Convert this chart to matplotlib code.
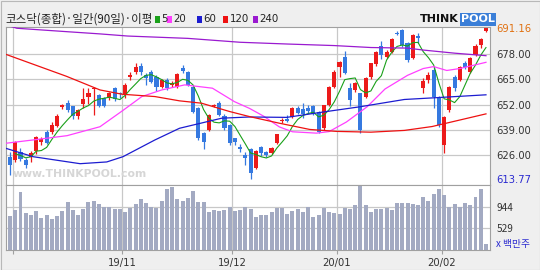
import numpy as np
import pandas as pd
import matplotlib
matplotlib.use('Agg')
import matplotlib.pyplot as plt
from matplotlib.patches import Rectangle

# 코스닥 일봉 (봉 번호 0 = 2019/09/30), 그림에서 읽은 값
opens = [625.2, 623.6, 627.4, 623.5, 624.9, 628.1, 632.7, 638.1, 638.1, 641.2,
         650.6, 653.0, 651.0, 646.3, 652.2, 656.1, 660.0, 656.9, 655.2, 655.2,
         660.4, 657.8, 656.9, 666.0, 668.9, 672.0, 667.0, 668.9, 666.3, 661.2,
         664.6, 662.0, 661.2, 671.0, 668.9, 661.2, 650.1, 637.3, 639.0, 651.0,
         652.7, 646.3, 641.5, 634.6, 630.4, 626.1, 629.0, 619.3, 630.0, 627.6,
         627.0, 632.1, 643.3, 644.4, 645.8, 650.1, 649.8, 650.3, 651.4, 648.0,
         639.8, 651.8, 661.2, 671.5, 676.6, 660.4, 659.5, 657.8, 656.1, 666.3,
         672.7, 682.3, 676.6, 679.2, 688.8, 690.3, 683.5, 676.1, 687.2, 660.4,
         664.6, 669.8, 656.1, 631.2, 649.2, 666.3, 664.6, 673.2, 668.9, 677.5,
         682.6, 689.8]
closes = [620.9, 632.6, 624.0, 621.0, 627.3, 635.3, 634.2, 632.1, 641.5, 646.3,
          651.8, 649.2, 646.3, 649.1, 654.9, 657.8, 660.6, 651.4, 651.4, 657.8,
          654.9, 657.2, 662.1, 667.0, 671.5, 668.9, 665.5, 663.8, 661.2, 664.6,
          660.4, 663.2, 667.6, 669.0, 662.1, 648.4, 634.7, 633.0, 646.7, 651.8,
          646.7, 639.9, 632.1, 633.0, 629.2, 624.4, 616.7, 628.3, 627.3, 626.0,
          629.6, 636.7, 643.8, 643.5, 650.1, 647.5, 647.0, 648.7, 647.0, 638.1,
          651.8, 661.2, 668.9, 674.0, 668.1, 654.4, 662.9, 639.0, 665.5, 673.2,
          678.9, 677.5, 679.2, 685.7, 688.0, 682.6, 674.9, 687.8, 686.4, 664.1,
          667.2, 656.1, 641.5, 645.8, 661.2, 660.4, 671.5, 671.5, 675.8, 682.3,
          685.7, 691.16]
highs = [627.5, 633.5, 629.5, 624.5, 628.3, 635.8, 635.5, 639.0, 643.0, 647.0,
         652.3, 654.5, 651.5, 649.5, 660.4, 660.5, 661.2, 657.5, 656.0, 658.5,
         661.0, 658.5, 663.0, 668.5, 673.5, 673.5, 668.0, 669.5, 667.0, 665.0,
         665.5, 664.0, 668.0, 672.5, 669.0, 661.5, 650.5, 638.0, 647.0, 652.3,
         654.0, 647.0, 642.0, 635.0, 631.5, 627.5, 629.5, 628.5, 630.5, 628.0,
         630.0, 637.0, 645.0, 646.5, 650.5, 651.5, 653.0, 652.0, 652.0, 648.5,
         652.0, 661.5, 669.5, 674.5, 679.5, 663.0, 663.5, 658.0, 666.0, 673.5,
         679.5, 684.5, 680.0, 686.0, 690.0, 691.0, 684.0, 688.5, 689.0, 665.5,
         668.5, 671.5, 656.5, 646.0, 661.5, 667.0, 672.0, 674.5, 676.5, 683.0,
         686.0, 691.16]
lows = [615.8, 622.5, 622.8, 619.3, 622.6, 626.5, 631.0, 631.5, 637.0, 640.5,
        649.8, 648.0, 644.8, 644.5, 650.0, 652.5, 646.7, 650.5, 650.5, 654.5,
        654.0, 655.5, 655.5, 664.5, 667.5, 667.0, 662.0, 663.0, 659.0, 660.5,
        659.5, 661.0, 660.5, 668.0, 661.5, 647.5, 634.0, 629.2, 638.5, 650.5,
        646.0, 639.0, 631.0, 631.0, 627.5, 621.0, 613.77, 619.0, 625.5, 625.0,
        626.5, 631.5, 642.5, 643.0, 645.0, 647.0, 645.0, 647.5, 646.5, 637.5,
        639.0, 651.0, 660.5, 666.0, 667.5, 651.5, 658.5, 637.3, 655.5, 665.0,
        672.0, 675.5, 676.0, 678.5, 687.5, 681.5, 674.0, 675.5, 683.5, 658.0,
        663.0, 650.0, 640.5, 627.0, 648.0, 659.0, 664.0, 670.5, 668.0, 677.0,
        680.9, 689.5]
# 거래량 (백만주)
volumes = [769, 886, 1231, 821, 788, 866, 736, 788, 716, 769,
           866, 1042, 886, 788, 905, 1042, 1061, 1003, 951, 951,
           905, 905, 841, 919, 997, 1095, 1028, 951, 919, 1067,
           1290, 1329, 1095, 1067, 1126, 1262, 1042, 1042, 841, 886,
           873, 886, 944, 873, 886, 944, 905, 749, 788, 788,
           841, 931, 919, 808, 866, 899, 841, 951, 755, 788,
           919, 841, 821, 808, 919, 905, 977, 1354, 977, 853,
           905, 905, 919, 886, 1016, 1016, 1016, 1003, 977, 1145,
           1061, 1192, 1296, 1178, 951, 997, 951, 1022, 977, 1145,
           1296, 223]

# 이동평균선 (그림에서 읽은 점: 봉 번호, 지수)
ma20_x = [-0.8, 4.4, 10.9, 17.2, 21.6, 25.2, 29.0, 33.4, 38.7, 42.9, 45.8, 48.5,
          51.5, 54.0, 58.6, 61.0, 64.3, 68.3, 71.7, 76.0, 79.0, 81.0, 83.5, 86.0, 91.0]
ma20_y = [632.1, 633.8, 636.0, 640.6, 649.0, 656.1, 659.5, 662.1, 660.4, 653.5, 650.0, 646.0,
          640.5, 638.0, 637.3, 638.1, 643.0, 650.9, 660.0, 667.0, 670.5, 671.5, 669.5, 670.5, 673.7]
ma60_x = [-0.8, 4.4, 13.4, 18.5, 21.6, 27.7, 32.4, 40.5, 45.8, 52.9, 60.5, 66.8, 75.4, 82.0, 91.0]
ma60_y = [629.5, 625.2, 621.6, 622.5, 625.2, 633.8, 639.8, 645.0, 645.6, 645.4, 648.4, 650.8,
          654.6, 655.6, 657.0]
ma120_x = [-0.8, 10.8, 17.2, 21.4, 27.7, 32.4, 36.6, 42.0, 45.8, 51.5, 57.3, 62.4, 69.0,
           75.4, 80.7, 91.0]
ma120_y = [677.8, 666.5, 659.5, 657.3, 656.1, 653.9, 652.7, 648.4, 645.8, 642.4, 639.2, 638.2,
           637.8, 638.7, 640.7, 647.2]
ma240_x = [-0.8, 1.3, 10.0, 17.2, 22.5, 34.0, 44.0, 53.0, 62.0, 69.0, 76.0, 79.0, 85.0, 91.0]
ma240_y = [693.0, 691.2, 689.6, 688.3, 687.2, 686.0, 684.0, 683.1, 682.3, 681.3, 681.0, 680.0,
           678.4, 677.1]

month_first = [1, 22, 43, 63, 83]
month_labels = ['', '19/11', '19/12', '20/01', '20/02']
price_ticks = [626, 639, 652, 665, 678]
vol_ticks = [529, 944]

legend_names = ['5', '20', '60', '120', '240']
legend_colors = ['#1aa01a', '#ff40ff', '#1c1cd0', '#ee1111', '#9a1ad0']

UP = '#ec1a1a'
DOWN = '#3579e0'
GRID = '#c8c8c8'
BG = '#efefef'

plt.rcParams['font.family'] = ['Noto Sans CJK KR', 'DejaVu Sans']

W, H = 540, 270
fig = plt.figure(figsize=(W / 100, H / 100), dpi=100, facecolor=BG)

# 가격 / 거래량 영역
ax = fig.add_axes([6 / W, 1 - 185 / H, 484 / W, 158.3 / H])
axv = fig.add_axes([6 / W, 1 - 250.3 / H, 484 / W, 65.3 / H], sharex=ax)

idx = np.arange(len(closes))
o = np.array(opens)
c = np.array(closes)
up = c >= o
colors = np.where(up, UP, DOWN)
body_lo = np.minimum(o, c)
body_h = np.maximum(np.abs(c - o), 0.5)

ax.vlines(idx, lows, highs, colors=colors, linewidth=0.9, zorder=2)
ax.bar(idx, body_h, bottom=body_lo, width=0.78, color=colors, linewidth=0, zorder=2)

# 이동평균선
ma5 = pd.Series(closes).rolling(5, min_periods=1).mean()
ax.plot(idx[1:], ma5[1:], color=legend_colors[0], lw=0.8, zorder=3)
ax.plot(ma20_x, ma20_y, color=legend_colors[1], lw=0.9, zorder=3)
ax.plot(ma60_x, ma60_y, color=legend_colors[2], lw=0.9, zorder=3)
ax.plot(ma120_x, ma120_y, color=legend_colors[3], lw=0.9, zorder=3)
ax.plot(ma240_x, ma240_y, color=legend_colors[4], lw=0.9, zorder=3)

axv.bar(idx, volumes, width=0.76, color='#a3aac2', linewidth=0, zorder=2)

month_lines = np.array(month_first) - 0.5
for a in (ax, axv):
    a.set_facecolor('white')
    for m in month_lines:
        a.axvline(m, color=GRID, lw=0.9, zorder=0)
    for s in a.spines.values():
        s.set_color('#a0a0a0')
        s.set_linewidth(0.8)
for t in price_ticks:
    ax.axhline(t, color=GRID, lw=0.9, zorder=0)
for t in vol_ticks:
    axv.axhline(t, color=GRID, lw=0.9, zorder=0)

ax.set_xlim(-0.77, len(closes) - 0.23)
ax.set_ylim(610.65, 692.0)
axv.set_ylim(100, 1373)

# 오른쪽 눈금
pmax, pmin = max(highs), min(lows)
ax.yaxis.tick_right()
ax.set_yticks([pmin] + price_ticks + [pmax])
ax.set_yticklabels(['%.2f' % v for v in [pmin] + price_ticks + [pmax]])
ax.tick_params(axis='y', length=0, pad=4.5, labelsize=7.2, labelcolor='#333333')
ylabels = ax.get_yticklabels()
ylabels[0].set_color('#2a2ad0')
ylabels[-1].set_color('#e07010')
for lb in ylabels:
    lb.set_family('DejaVu Sans')

axv.yaxis.tick_right()
axv.set_yticks([236] + vol_ticks)
axv.set_yticklabels(['x 백만주'] + [str(v) for v in vol_ticks])
axv.tick_params(axis='y', length=0, pad=4.5, labelsize=7.2, labelcolor='#333333')
vlabels = axv.get_yticklabels()
vlabels[0].set_color('#2a2ad0')
vlabels[0].set_fontsize(7)

plt.setp(ax.get_xticklabels(), visible=False)
ax.tick_params(axis='x', length=0)
axv.set_xticks(month_lines)
axv.set_xticklabels(month_labels)
axv.tick_params(axis='x', length=3, color='#a0a0a0', pad=2.5, labelsize=7.2, labelcolor='#333333')
for lb in axv.get_xticklabels():
    lb.set_family('DejaVu Sans')

# 워터마크
ax.text(0.153, 0.07, 'www.THINKPOOL.com', transform=ax.transAxes, ha='center', va='center',
        fontsize=7.8, fontweight='bold', color='#d6d6d6', family='DejaVu Sans', zorder=1)

# 제목과 범례
fig.text(5 / W, 1 - 19.5 / H, '코스닥(종합)·일간(90일)·이평', fontsize=8.3, color='#222222',
         va='center', ha='left')
legend_x = [155, 167, 197, 223, 253]
for lx, name, col in zip(legend_x, legend_names, legend_colors):
    fig.patches.append(Rectangle((lx / W, 1 - 23.3 / H), 5.3 / W, 7.3 / H, facecolor=col,
                                 edgecolor='none', transform=fig.transFigure, figure=fig))
    fig.text((lx + 6.5) / W, 1 - 19.5 / H, name, fontsize=7.4, color='#222222',
             va='center', ha='left', family='DejaVu Sans')

# THINKPOOL 로고
fig.text(420 / W, 1 - 19.5 / H, 'THINK', fontsize=8, fontweight='bold', color='#111111',
         va='center', ha='left', family='DejaVu Sans')
fig.text(461 / W, 1 - 19.5 / H, 'POOL', fontsize=8, fontweight='bold', color='white',
         va='center', ha='left', family='DejaVu Sans',
         bbox=dict(boxstyle='square,pad=0.12', facecolor='#3b7fd8', edgecolor='none'))

# 바깥 테두리
fig.patches.append(Rectangle((0.5 / W, 0.5 / H), (W - 1) / W, (H - 1) / H, fill=False,
                             edgecolor='#b8b8b8', lw=0.8, transform=fig.transFigure, figure=fig))

fig.savefig('out.png', dpi=100, facecolor=BG)
